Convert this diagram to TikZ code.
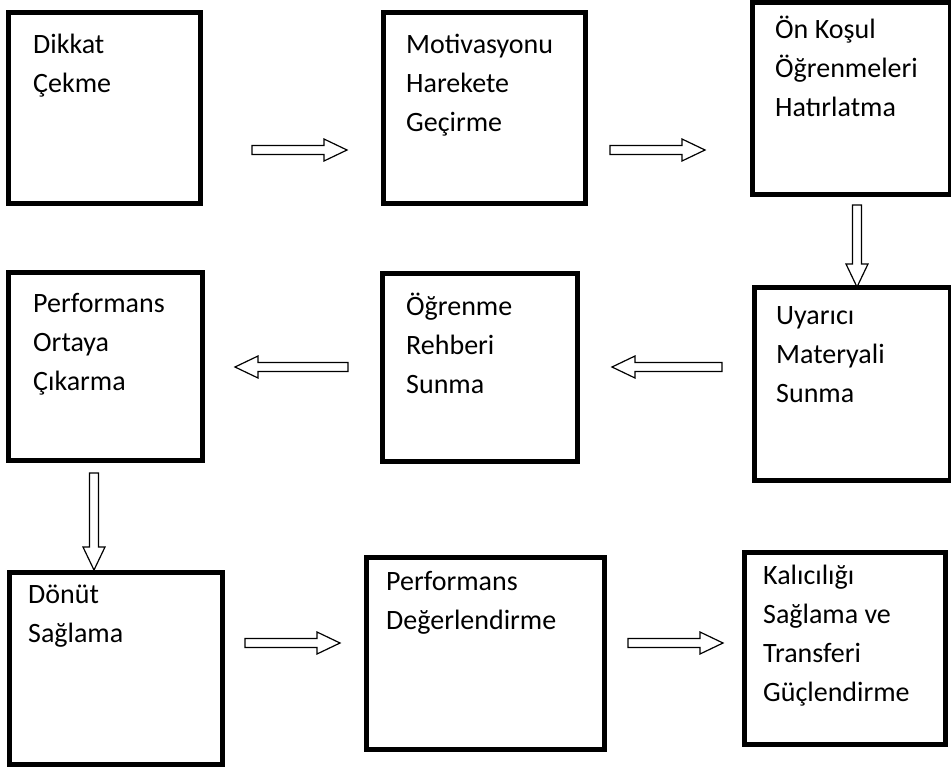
\documentclass[tikz,border=0pt]{standalone}
\usepackage{fontspec}
\setmainfont{Carlito}

\tikzset{
  stage/.style={draw, line width=5pt, inner sep=0pt, outer sep=0pt, anchor=north west},
  stagetxt/.style={anchor=north west, align=left, inner sep=0pt,
    font=\fontsize{28}{39}\selectfont, execute at begin node=\strut},
  arrline/.style={line width=1.2pt, fill=white},
  pics/blkarr/.style={code={
    \draw[arrline] (0,-4.5) -- ({#1-23},-4.5) -- ({#1-23},-11) -- (#1,0)
      -- ({#1-23},11) -- ({#1-23},4.5) -- (0,4.5) -- cycle;
  }}
}

\begin{document}
\begin{tikzpicture}[x=1pt, y=-1pt]
    \path[use as bounding box, fill=white] (0,0) rectangle (951,769);

    % first row
    \node[stage, minimum width=192pt, minimum height=191pt] (b1) at (8.5,12.5) {};
    \node[stage, minimum width=202pt, minimum height=191pt] (b2) at (383.5,12.5) {};
    \node[stage, minimum width=198pt, minimum height=192pt] (b3) at (752.5,2.5) {};
    \node[stagetxt] (t1) at (33,34) {Dikkat\\Çekme};
    \node[stagetxt] (t2) at (406,34) {Motivasyonu\\Harekete\\Geçirme};
    \node[stagetxt] (t3) at (775,16) {Ön Koşul\\Öğrenmeleri\\Hatırlatma};

    % second row
    \node[stage, minimum width=194pt, minimum height=188pt] (b4) at (8.5,272.5) {};
    \node[stage, minimum width=195pt, minimum height=188pt] (b5) at (382.5,273.5) {};
    \node[stage, minimum width=196pt, minimum height=193pt] (b6) at (754.5,287.5) {};
    \node[stagetxt] (t4) at (33,293) {Performans\\Ortaya\\Çıkarma};
    \node[stagetxt] (t5) at (406,293) {Öğrenme\\Rehberi\\Sunma};
    \node[stagetxt] (t6) at (776,306) {Uyarıcı\\Materyali\\Sunma};

    % third row
    \node[stage, minimum width=213pt, minimum height=192pt] (b7) at (9.5,572.5) {};
    \node[stage, minimum width=238pt, minimum height=192pt] (b8) at (366.5,557.5) {};
    \node[stage, minimum width=201pt, minimum height=192pt] (b9) at (744.5,552.5) {};
    \node[stagetxt] (t7) at (28,585) {Dönüt\\Sağlama};
    \node[stagetxt] (t8) at (386,571) {Performans\\Değerlendirme};
    \node[stagetxt] (t9) at (763,565) {Kalıcılığı\\Sağlama ve\\Transferi\\Güçlendirme};

    % arrows
    \pic at (252,150) {blkarr=95};
    \pic at (610,150) {blkarr=95};
    \pic[rotate=-90] at (857,205) {blkarr=82};
    \pic[rotate=180] at (722,367) {blkarr=110};
    \pic[rotate=180] at (348,367) {blkarr=113};
    \pic[rotate=-90] at (94,473) {blkarr=97};
    \pic at (245,643) {blkarr=95};
    \pic at (628,643) {blkarr=95};
\end{tikzpicture}
\end{document}
